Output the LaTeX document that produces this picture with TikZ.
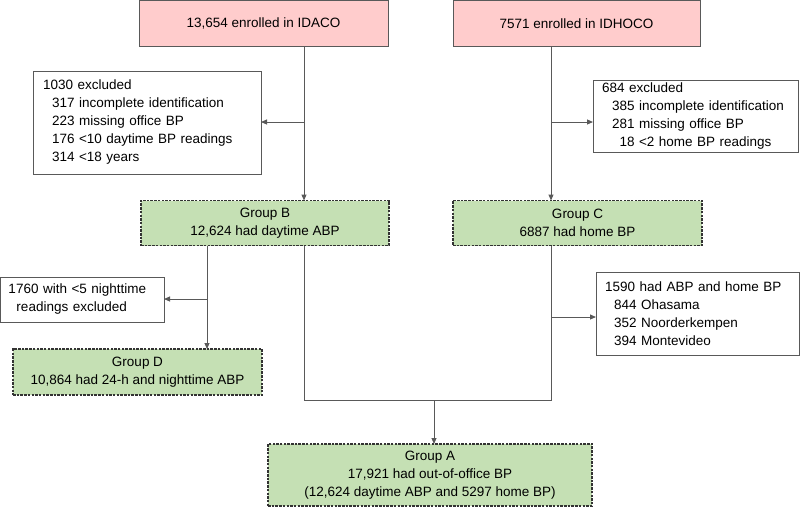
\documentclass[tikz,border=0pt]{standalone}
\usepackage{fontspec}
\setmainfont{Liberation Sans}
\usetikzlibrary{arrows.meta}
\definecolor{pinkfill}{HTML}{FFCCCC}
\definecolor{greenfill}{HTML}{C5E0B4}
\definecolor{linegray}{HTML}{595959}
\definecolor{dashgray}{HTML}{333333}
\begin{document}
\begin{tikzpicture}[x=1pt,y=-1pt,
  every node/.style={font=\fontsize{13.5}{18}\selectfont, inner sep=0pt, outer sep=0pt},
  enrol/.style={draw=linegray, fill=pinkfill, line width=1pt, align=center},
  group/.style={draw=dashgray, fill=greenfill, dash pattern=on 2.5pt off 1.2pt, line width=1.1pt, align=center},
  exbox/.style={draw=linegray, fill=white, line width=1pt, align=left},
  conn/.style={draw=linegray, line width=1pt},
  arr/.style={conn, -{Triangle[length=6pt,width=5pt]}}]
\useasboundingbox (0,0) rectangle (800,507);

% enrolment boxes
\node[enrol, minimum width=249pt, minimum height=45.5pt] (idaco) at (263.5,23.25) {13,654 enrolled in IDACO};
\node[enrol, minimum width=247pt, minimum height=45.5pt] (idhoco) at (576.5,23.25) {7571 enrolled in IDHOCO};

% exclusion boxes
\node[exbox, text width=208pt, inner xsep=10pt, minimum height=103pt] (ex1) at (147,122.5)
  {1030 excluded\\
   \hspace*{9pt}317 incomplete identification\\
   \hspace*{9pt}223 missing office BP\\
   \hspace*{9pt}176 <10 daytime BP readings\\
   \hspace*{9pt}314 <18 years};
\node[exbox, text width=187pt, inner xsep=9pt, minimum height=72pt] (ex2) at (695.5,116)
  {684 excluded\\
   \hspace*{10pt}385 incomplete identification\\
   \hspace*{10pt}281 missing office BP\\
   \hspace*{10pt}\phantom{0}18 <2 home BP readings};
\node[exbox, text width=147.5pt, inner xsep=8pt, minimum height=45pt] (ex3) at (82.25,299.5)
  {1760 with <5 nighttime\\
   \hspace*{8pt}readings excluded};
\node[exbox, text width=185pt, inner xsep=9pt, minimum height=83pt] (ex4) at (697.5,313.5)
  {1590 had ABP and home BP\\
   \hspace*{9pt}844 Ohasama\\
   \hspace*{9pt}352 Noorderkempen\\
   \hspace*{9pt}394 Montevideo};

% groups
\node[group, minimum width=248pt, minimum height=45pt] (grpB) at (265,223) {Group B\\12,624 had daytime ABP};
\node[group, minimum width=249pt, minimum height=45pt] (grpC) at (577.5,223) {Group C\\6887 had home BP};
\node[group, minimum width=249pt, minimum height=46pt] (grpD) at (137.5,372) {Group D\\10,864 had 24-h and nighttime ABP};
\node[group, minimum width=324pt, minimum height=62pt] (grpA) at (430,475) {Group A\\17,921 had out-of-office BP\\(12,624 daytime ABP and 5297 home BP)};

% routing coordinates
\coordinate (xL) at (304,0);
\coordinate (xR) at (551,0);
\coordinate (xD) at (207,0);
\coordinate (xA) at (434,0);
\coordinate (jB) at (304,122);
\coordinate (jC) at (551,122);
\coordinate (jD) at (207,299);
\coordinate (jE) at (551,317);
\coordinate (cB) at (304,400);
\coordinate (cC) at (551,400);
\coordinate (jA) at (434,400);

% connectors
\draw[arr] (idaco.south -| xL) -- (grpB.north -| xL);
\draw[arr] (jB) -- (ex1.east |- jB);
\draw[arr] (idhoco.south -| xR) -- (grpC.north -| xR);
\draw[arr] (jC) -- (ex2.west |- jC);
\draw[arr] (grpB.south -| xD) -- (grpD.north -| xD);
\draw[arr] (jD) -- (ex3.east |- jD);
\draw[conn] (grpB.south -| xL) -- (cB) -- (cC) -- (grpC.south -| xR);
\draw[arr] (jE) -- (ex4.west |- jE);
\draw[arr] (jA) -- (grpA.north -| xA);
\end{tikzpicture}
\end{document}
